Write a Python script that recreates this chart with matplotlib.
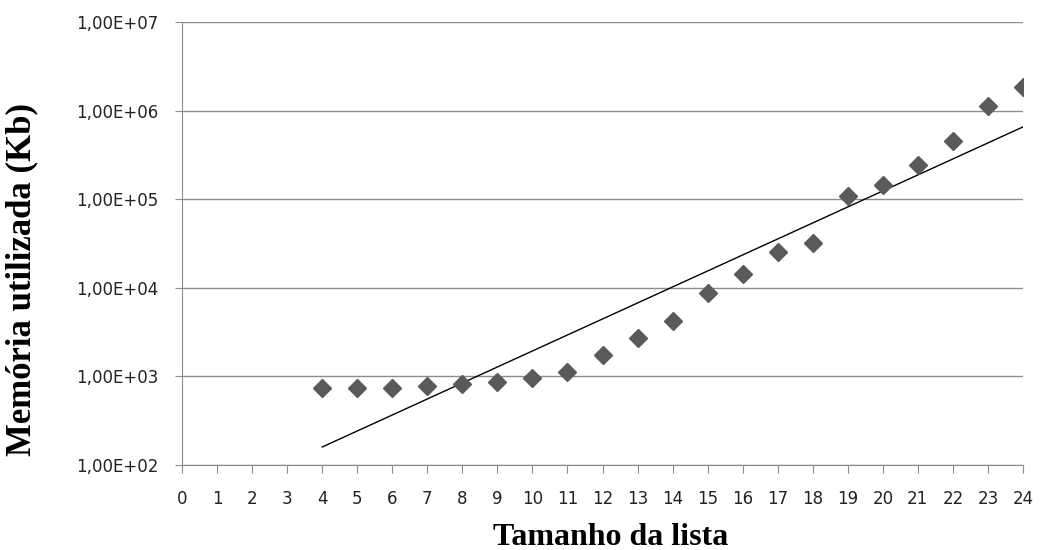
import numpy as np
import matplotlib.pyplot as plt
from matplotlib.ticker import FuncFormatter, FixedLocator

# dados
tamanho = [4, 5, 6, 7, 8, 9, 10, 11, 12, 13, 14, 15, 16, 17, 18, 19, 20, 21, 22, 23, 24]
memoria = [733, 733, 733, 771, 812, 855, 950, 1110, 1725, 2690, 4170, 8650,
           14400, 25500, 32300, 108000, 144000, 242000, 454000, 1120000, 1870000]

# linha de tendencia exponencial (como no Excel)
b, a = np.polyfit(tamanho, np.log(memoria), 1)
xt = np.array([tamanho[0], tamanho[-1]])
yt = np.exp(a + b * xt)

fig = plt.figure(figsize=(10.57, 5.5), dpi=100)
ax = fig.add_axes([182 / 1057, 1 - 465 / 550, (1023 - 182) / 1057, (465 - 22) / 550])

ax.plot(xt, yt, color='black', lw=1.0, zorder=2)
ax.plot(tamanho, memoria, linestyle='none', marker='D', ms=9, color='#5a5a5a', zorder=3)

ax.set_yscale('log')
ax.set_ylim(1e2, 1e7)
ax.set_xlim(0, 24)
ax.xaxis.set_major_locator(FixedLocator(range(0, 25)))
ax.yaxis.set_major_locator(FixedLocator([1e2, 1e3, 1e4, 1e5, 1e6, 1e7]))
ax.yaxis.set_minor_locator(FixedLocator([]))


def fmt(v, pos):
    e = int(round(np.log10(v)))
    return '1,00E+%02d' % e


ax.yaxis.set_major_formatter(FuncFormatter(fmt))
ax.grid(axis='y', color='#8c8c8c', lw=1.0)
ax.set_axisbelow(True)
for s in ['top', 'right']:
    ax.spines[s].set_visible(False)
for s in ['left', 'bottom']:
    ax.spines[s].set_color('#8c8c8c')
ax.tick_params(axis='both', colors='#8c8c8c', labelcolor='#222222', labelsize=12, length=6)
ax.tick_params(axis='x', pad=12)
ax.tick_params(axis='y', pad=12, length=5)

ax.set_xlabel('Tamanho da lista', fontfamily='Liberation Serif', fontweight='bold',
              fontsize=23)
ax.set_ylabel('Memória utilizada (Kb)', fontfamily='Liberation Serif', fontweight='bold',
              fontsize=25)
ax.yaxis.set_label_coords(-(182 - 22) / 841, 1 - (280 - 22) / 443)
ax.xaxis.set_label_coords((611 - 182) / 841, -(545 - 465) / 443)
ax.xaxis.label.set_va('baseline')
ax.yaxis.label.set_va('center')

fig.savefig('out.png', dpi=100)
